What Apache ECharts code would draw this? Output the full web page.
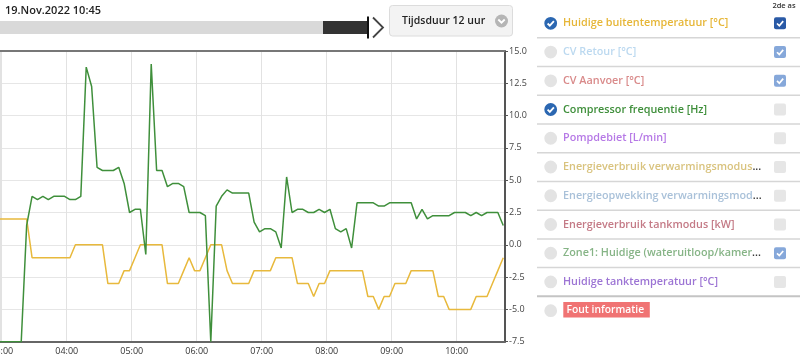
<!DOCTYPE html>
<html>
<head>
<meta charset="utf-8">
<script src="https://cdn.jsdelivr.net/npm/echarts@6/dist/echarts.min.js"></script>
<style>
html,body{margin:0;padding:0;background:#fff;}
#c{width:800px;height:361px;}
</style>
</head>
<body>
<div id="c"></div>
<script>
// ---- data ----
const sampleTimes = [
 "02:58",
 "03:03","03:08","03:13","03:18","03:23","03:28","03:33","03:38","03:43","03:48","03:53","03:58",
 "04:03","04:08","04:13","04:18","04:23","04:28","04:33","04:38","04:43","04:48","04:53","04:58",
 "05:03","05:08","05:13","05:18","05:23","05:28","05:33","05:38","05:43","05:48","05:53","05:58",
 "06:03","06:08","06:13","06:18","06:23","06:28","06:33","06:38","06:43","06:48","06:53","06:58",
 "07:03","07:08","07:13","07:18","07:23","07:28","07:33","07:38","07:43","07:48","07:53","07:58",
 "08:03","08:08","08:13","08:18","08:23","08:28","08:33","08:38","08:43","08:48","08:53","08:58",
 "09:03","09:08","09:13","09:18","09:23","09:28","09:33","09:38","09:43","09:48","09:53","09:58",
 "10:03","10:08","10:13","10:18","10:23","10:28","10:33","10:38","10:43"
];
// Compressor frequentie [Hz] (left, hidden axis)
const compressorHz = [
 0,
 0,0,0,0,36,45,44,45,44,45,45,45,
 44,44,45,85,79,54,53,53,53,54,49,40,
 41,41,27,86,53,53,48,49,49,48,40,40,
 40,39,0,42,45,47,46,46,46,46,37,34,
 35,35,34,29,51,40,41,41,40,40,41,40,
 41,35,34,35,29,43,43,43,43,42,42,43,
 43,43,43,43,38,41,38,39,39,39,39,40,
 40,40,39,40,39,40,40,40,36
];
// Huidige buitentemperatuur [°C] (right axis, "2de as")
const outsideTemp = [
 2,
 2,2,2,2,2,-1,-1,-1,-1,-1,-1,-1,
 -1,0,0,0,0,0,0,-3,-3,-3,-2,-2,
 -1,0,0,0,0,0,-3,-3,-3,-2,-1,-2,
 -2,-1,0,0,0,-2,-3,-3,-3,-3,-2,-2,
 -2,-2,-1,-1,-1,-1,-3,-3,-3,-4,-3,-3,
 -2,-2,-2,-2,-2,-2,-2,-4,-4,-5,-4,-4,
 -3,-3,-3,-2,-2,-2,-2,-2,-4,-4,-5,-5,
 -5,-5,-5,-4,-4,-4,-3,-2,-1
];
const headerDate = "19.Nov.2022 10:45";
const durationLabel = "Tijdsduur 12 uur";
const axis2Header = "2de as";
const legendNames = [
 "Huidige buitentemperatuur [°C]",
 "CV Retour [°C]",
 "CV Aanvoer [°C]",
 "Compressor frequentie [Hz]",
 "Pompdebiet [L/min]",
 "Energieverbruik verwarmingsmodus",
 "Energieopwekking verwarmingsmod",
 "Energieverbruik tankmodus [kW]",
 "Zone1: Huidige (wateruitloop/kamer",
 "Huidige tanktemperatuur [°C]"
];
const legendTruncated = [false,false,false,false,false,true,true,false,true,false];
const legendActive = [true,false,false,true,false,false,false,false,false,false];
const legendAxis2 = [true,true,true,false,false,false,false,false,true,false];
const errorLabel = "Fout informatie";

// ---- styles ----
const legendColors = ["#e6b637","#bcd9f0","#d98a8a","#3f8f3b","#b679e6","#d9c37e","#a9c1d9","#c47a86","#86b486","#9c74d4"];
const FONT = '"Open Sans", "Noto Sans", sans-serif';

function toDate(hm){
  const p = hm.split(":");
  return new Date(2022,10,19,+p[0],+p[1]).getTime();
}
const greenData = sampleTimes.map((t,i)=>[toDate(t), compressorHz[i]]);
const yellowData = sampleTimes.map((t,i)=>[toDate(t), outsideTemp[i]]);

const chart = echarts.init(document.getElementById('c'), null, {renderer:'canvas'});

// ---- graphic decorations (header + legend panel) ----
const g = [];
g.push({type:'text', x:5, y:11, style:{text:headerDate, fill:'#222', font:'600 11px '+FONT, verticalAlign:'middle'}});
g.push({type:'rect', shape:{x:0,y:21,width:323,height:13}, style:{fill:'#d9d9d9'}});
g.push({type:'rect', shape:{x:323,y:21,width:44,height:13}, style:{fill:'#333'}});
g.push({type:'line', shape:{x1:368,y1:16.5,x2:368,y2:38.5}, style:{stroke:'#111',lineWidth:2}});
g.push({type:'polyline', shape:{points:[[373,17.5],[383,27.5],[373,37.5]]}, style:{stroke:'#444',lineWidth:1.8,fill:null}});
g.push({type:'rect', shape:{x:389.5,y:5.5,width:123,height:30.5,r:3}, style:{fill:'#f3f3f3',stroke:'#dcdcdc',lineWidth:1}});
g.push({type:'text', x:402, y:21, style:{text:durationLabel, fill:'#222', font:'600 10.5px '+FONT, verticalAlign:'middle'}});
g.push({type:'circle', shape:{cx:501.5,cy:21,r:6.5}, style:{fill:'#b5b5b5'}});
g.push({type:'polyline', shape:{points:[[498.3,19.5],[501.5,22.7],[504.7,19.5]]}, style:{stroke:'#fff',lineWidth:1.8,fill:null}});
g.push({type:'text', x:784, y:5.5, style:{text:axis2Header, fill:'#333', font:'600 7.5px '+FONT, align:'center', verticalAlign:'middle'}});
const rowY0 = 23.3, rowStep = 28.74;
for(let i=0;i<legendNames.length+1;i++){
  const cy = rowY0 + i*rowStep;
  if(i<legendNames.length && legendActive[i]){
    g.push({type:'circle', shape:{cx:550.7,cy:cy,r:6.4}, style:{fill:'#2b67b1'}});
    g.push({type:'polyline', shape:{points:[[547.6,cy+0.2],[549.8,cy+2.4],[553.9,cy-2.2]]}, style:{stroke:'#fff',lineWidth:1.8,fill:null}});
  } else {
    g.push({type:'circle', shape:{cx:550.7,cy:cy,r:6.4}, style:{fill:'#e3e3e3'}});
  }
  if(i<legendNames.length){
    const txt = legendTruncated[i] ? '{a|'+legendNames[i]+'}{b|...}' : '{a|'+legendNames[i]+'}';
    g.push({type:'text', x:563, y:cy, style:{text:txt, verticalAlign:'middle',
      rich:{a:{fill:legendColors[i], font:'600 10.8px '+FONT}, b:{fill:'#333', font:'600 10.8px '+FONT}}}});
    let fill = '#e6e6e6';
    if(legendAxis2[i]) fill = (i===0) ? '#2a5aa6' : '#86a8da';
    g.push({type:'rect', shape:{x:774,y:cy-6,width:12,height:12,r:2}, style:{fill:fill}});
    if(legendAxis2[i]){
      g.push({type:'polyline', shape:{points:[[777,cy+0.2],[779.3,cy+2.4],[783.2,cy-2.2]]}, style:{stroke:'#fff',lineWidth:1.7,fill:null}});
    }
    const sy = cy + 14.4;
    const last = (i===legendNames.length-1);
    g.push({type:'line', shape:{x1:537,y1:sy,x2:800,y2:sy}, style:{stroke:last?'#c4c4c4':'#d6d6d6', lineWidth:last?2:1.5}});
  } else {
    g.push({type:'rect', shape:{x:563.3,y:cy-8.8,width:86.5,height:15.6}, style:{fill:'#f07373'}});
    g.push({type:'text', x:566.5, y:cy-1, style:{text:errorLabel, fill:'#fff', font:'600 10.3px '+FONT, verticalAlign:'middle'}});
  }
}

const option = {
  animation:false,
  backgroundColor:'#fff',
  textStyle:{fontFamily:FONT},
  grid:{left:0, right:295, top:51, bottom:19.3, containLabel:false, outerBoundsMode:'none'},
  xAxis:[{
    type:'time',
    min:new Date(2022,10,19,2,58,24).getTime(),
    max:new Date(2022,10,19,10,44,36).getTime(),
    minInterval:3600*1000,
    maxInterval:3600*1000,
    axisLine:{show:true, lineStyle:{color:'#666', width:2}},
    axisTick:{show:false},
    axisLabel:{formatter:'{HH}:{mm}', color:'#333', fontSize:9, margin:5, fontFamily:FONT, showMinLabel:false, showMaxLabel:false, hideOverlap:false},
    splitLine:{show:true, lineStyle:{color:'#e2e2e2', width:1}}
  },{
    type:'value', position:'top', min:0, max:1,
    axisLine:{show:true, onZero:false, lineStyle:{color:'#777', width:2}},
    axisTick:{show:false}, axisLabel:{show:false}, splitLine:{show:false}
  }],
  yAxis:[{
    type:'value', min:0, max:90, interval:10, show:false
  },{
    type:'value', position:'right', min:-7.5, max:15, interval:2.5,
    axisLine:{show:true, lineStyle:{color:'#555', width:2}},
    axisTick:{show:true, length:3, lineStyle:{color:'#555'}},
    axisLabel:{formatter:v=>v.toFixed(1), color:'#444', fontSize:9, margin:4, fontFamily:FONT},
    splitLine:{show:true, lineStyle:{color:'#e6e6e6', width:1}}
  }],
  series:[{
    name:legendNames[0], type:'line', xAxisIndex:0, yAxisIndex:1, data:yellowData,
    showSymbol:false, lineStyle:{color:'#e8b93c', width:1.5}, itemStyle:{color:'#e8b93c'}
  },{
    name:legendNames[3], type:'line', xAxisIndex:0, yAxisIndex:0, data:greenData,
    showSymbol:false, lineStyle:{color:'#3f8f3b', width:1.5}, itemStyle:{color:'#3f8f3b'}
  }],
  graphic:g
};
chart.setOption(option);
</script>
</body>
</html>
